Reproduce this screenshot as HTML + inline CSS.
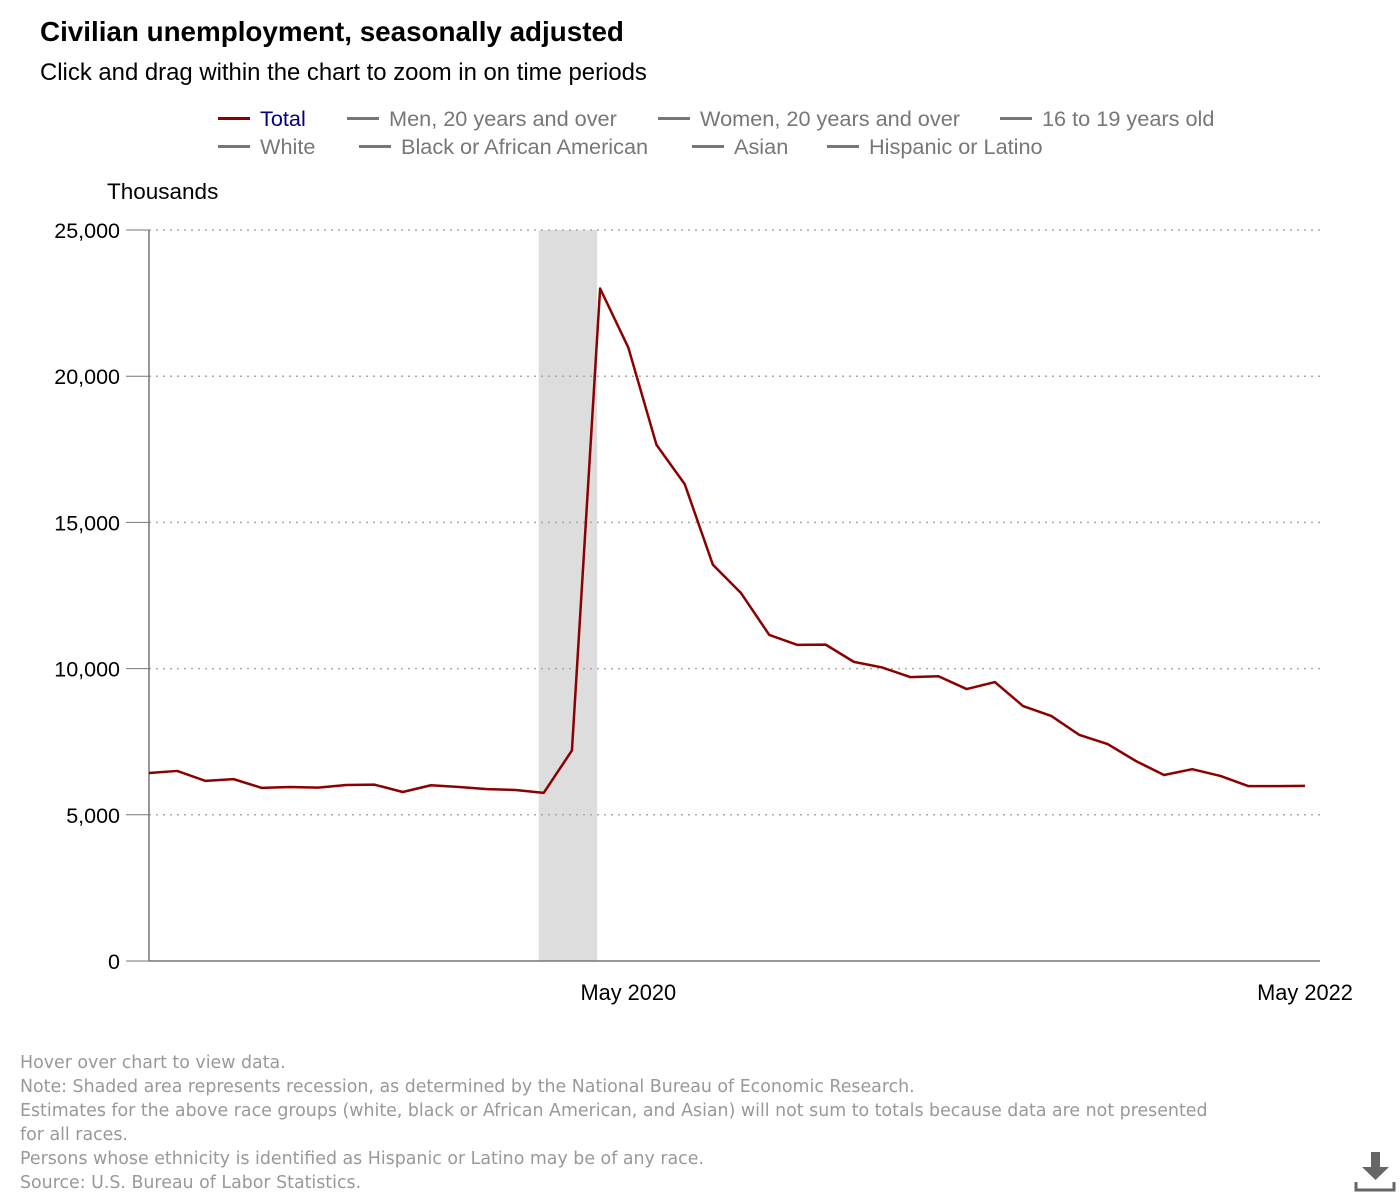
<!DOCTYPE html>
<html><head><meta charset="utf-8"><style>
body{margin:0;width:1400px;height:1200px;background:#fff;font-family:"Liberation Sans",sans-serif;position:relative;overflow:hidden}
.t{position:absolute;white-space:nowrap}
.leg{position:absolute;font-size:21.7px;color:#777;white-space:nowrap}
.leg span.l{display:inline-block;width:32px;height:3px;background:#777;vertical-align:middle;margin-right:10px;position:relative;top:-2px}
.note{position:absolute;left:20px;font-size:17.4px;color:#999;white-space:nowrap;font-family:"DejaVu Sans",sans-serif}
</style></head><body>
<div class="t" style="left:40px;top:16px;font-size:27.8px;font-weight:bold">Civilian unemployment, seasonally adjusted</div>
<div class="t" style="left:40px;top:59px;font-size:23.9px">Click and drag within the chart to zoom in on time periods</div>
<div class="leg" style="left:218px;top:106px;color:#000080"><span class="l" style="background:#8b0000"></span>Total</div>
<div class="leg" style="left:347px;top:106px"><span class="l"></span>Men, 20 years and over</div>
<div class="leg" style="left:658px;top:106px"><span class="l"></span>Women, 20 years and over</div>
<div class="leg" style="left:1000px;top:106px"><span class="l"></span>16 to 19 years old</div>
<div class="leg" style="left:218px;top:134px"><span class="l"></span>White</div>
<div class="leg" style="left:359px;top:134px"><span class="l"></span>Black or African American</div>
<div class="leg" style="left:692px;top:134px"><span class="l"></span>Asian</div>
<div class="leg" style="left:827px;top:134px"><span class="l"></span>Hispanic or Latino</div>
<div class="t" style="left:107px;top:179px;font-size:22.5px">Thousands</div>
<svg id="chart" width="1400" height="1020" style="position:absolute;left:0;top:0"></svg>
<div class="note" style="top:1053px">Hover over chart to view data.</div>
<div class="note" style="top:1077px">Note: Shaded area represents recession, as determined by the National Bureau of Economic Research.</div>
<div class="note" style="top:1101px">Estimates for the above race groups (white, black or African American, and Asian) will not sum to totals because data are not presented</div>
<div class="note" style="top:1125px">for all races.</div>
<div class="note" style="top:1149px">Persons whose ethnicity is identified as Hispanic or Latino may be of any race.</div>
<div class="note" style="top:1173px">Source: U.S. Bureau of Labor Statistics.</div>
<svg width="44" height="44" style="position:absolute;left:1353px;top:1150px">
<rect x="18" y="2" width="9" height="16" fill="#666"/><polygon points="9,17 36,17 22.5,30" fill="#666"/>
<path d="M3,32 V40 H41 V32" fill="none" stroke="#666" stroke-width="3"/></svg>
<script>
const values=[6430,6500,6160,6220,5920,5950,5930,6020,6030,5780,6010,5950,5880,5850,5750,7200,23000,20980,17650,16310,13550,12580,11150,10810,10820,10230,10040,9710,9740,9300,9540,8720,8380,7730,7420,6840,6360,6560,6330,5980,5980,5990];
const yTicks=[0,5000,10000,15000,20000,25000];
const xLabels=[{i:17,t:"May 2020"},{i:41,t:"May 2022"}];
const recession=[14,16];
const NS="http://www.w3.org/2000/svg";
const svg=document.getElementById('chart');
const x=i=>149+i*(1156/41);
const y=v=>961-v*(731/25000);
function mk(t,a){const e=document.createElementNS(NS,t);for(const k in a)e.setAttribute(k,a[k]);svg.appendChild(e);return e;}
let r=mk('rect',{x:x(recession[0])-5,y:y(25000),width:x(recession[1])-x(recession[0])+2,height:y(0)-y(25000),fill:'#ddd'});


yTicks.forEach(v=>{
 if(v>0){let g=mk('line',{x1:149,x2:1320,y1:y(v),y2:y(v),stroke:'#aaa','stroke-width':1.5,'stroke-dasharray':'2,5'});
 
 }
 let tl=mk('line',{x1:126,x2:149,y1:y(v),y2:y(v),stroke:'#777','stroke-width':1});
 
 
 let t=mk('text',{x:120,y:y(v)+8,'text-anchor':'end','font-size':21.5,'font-family':'Liberation Sans, sans-serif'});
 t.textContent=v.toLocaleString('en-US');
 
 
});
let ax=mk('line',{x1:149,x2:149,y1:y(25000),y2:y(0),stroke:'#777','stroke-width':1.5});


let bx=mk('line',{x1:149,x2:1320,y1:y(0),y2:y(0),stroke:'#777','stroke-width':1.5});


xLabels.forEach(o=>{
 let t=mk('text',{x:x(o.i),y:1000,'text-anchor':'middle','font-size':21.8,'font-family':'Liberation Sans, sans-serif'});
 t.textContent=o.t;
 
 
});
let p=mk('polyline',{points:values.map((v,i)=>x(i)+','+y(v)).join(' '),fill:'none',stroke:'#8b0000','stroke-width':2.5,'stroke-linejoin':'round'});


</script>
</body></html>
